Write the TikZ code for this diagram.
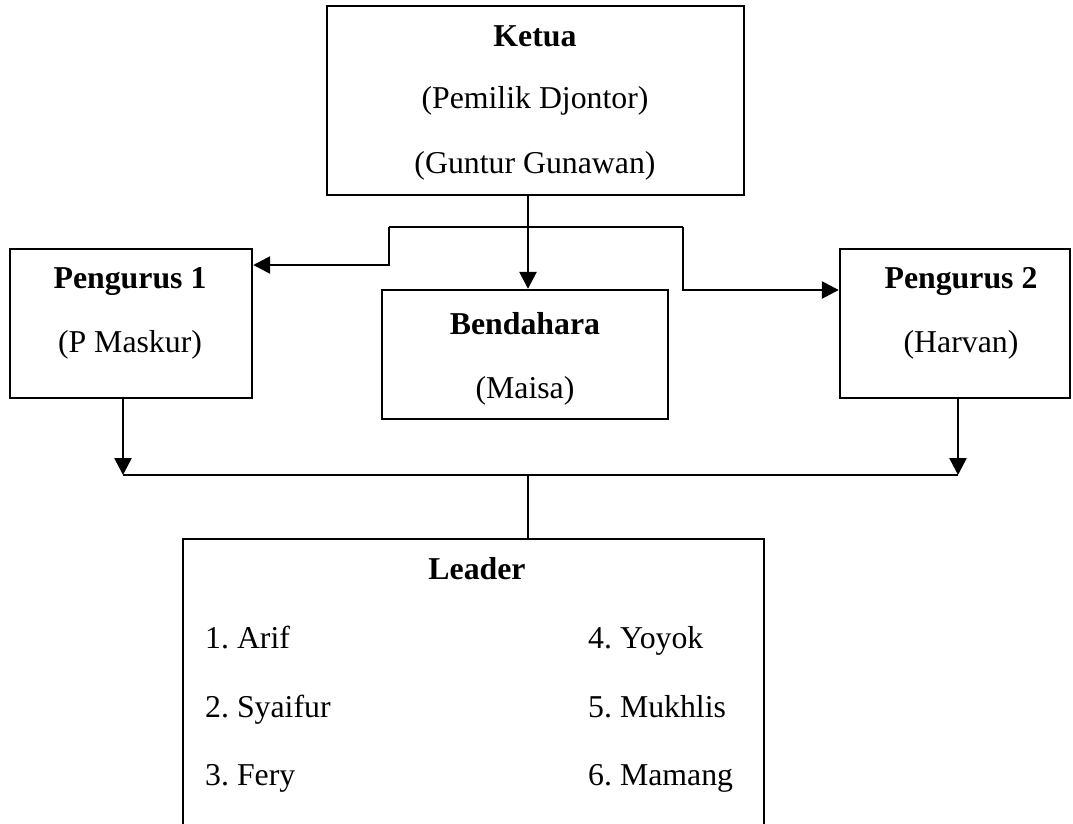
\documentclass[tikz,border=0pt]{standalone}
\usepackage{fontspec}
\setmainfont{Liberation Serif}
\usetikzlibrary{arrows.meta}
\frenchspacing
\begin{document}
\begin{tikzpicture}[x=1pt,y=-1pt,
  box/.style={draw, line width=2.4pt, inner sep=0pt},
  txt/.style={anchor=base, inner sep=0pt, font=\fontsize{31.8}{38}\selectfont},
  btxt/.style={anchor=base, inner sep=0pt, font=\fontsize{31.8}{38}\selectfont\bfseries},
  ltxt/.style={anchor=base west, inner sep=0pt, font=\fontsize{31.8}{38}\selectfont},
  conn/.style={line width=2.6pt},
  thinconn/.style={line width=1.5pt},
  arr/.style={conn, -{Triangle[length=17pt,width=17pt]}}]
\useasboundingbox (0,0) rectangle (1073,823);
\clip (0,0) rectangle (1073,823);

% boxes
\node[box, minimum width=417pt, minimum height=189pt] (ketua) at (535.5,100.5) {};
\node[box, minimum width=242pt, minimum height=149pt] (p1) at (131,323.5) {};
\node[box, minimum width=286pt, minimum height=129pt] (bend) at (525,354.5) {};
\node[box, minimum width=230pt, minimum height=149pt] (p2) at (955,323.5) {};
\node[inner sep=0pt, minimum width=581pt, minimum height=361pt] (leader) at (473.5,719.5) {};
\draw[line width=2.4pt] (leader.south west) -- (leader.north west) -- (leader.north east) -- (leader.south east);

% texts
\node[btxt] (t1) at (535,46) {Ketua};
\node[txt] (t2) at (535,108) {(Pemilik Djontor)};
\node[txt] (t3) at (535,173) {(Guntur Gunawan)};
\node[btxt] (t4) at (130,288) {Pengurus 1};
\node[txt] (t5) at (130,352) {(P Maskur)};
\node[btxt] (t6) at (525,334) {Bendahara};
\node[txt] (t7) at (525,398) {(Maisa)};
\node[btxt] (t8) at (961,288) {Pengurus 2};
\node[txt] (t9) at (961,352) {(Harvan)};
\node[btxt] (t10) at (477,579) {Leader};
\node[ltxt] (l1) at (205,648) {1. Arif};
\node[ltxt] (l2) at (205,717) {2. Syaifur};
\node[ltxt] (l3) at (205,785) {3. Fery};
\node[ltxt] (l4) at (588,648) {4. Yoyok};
\node[ltxt] (l5) at (588,717) {5. Mukhlis};
\node[ltxt] (l6) at (588,785) {6. Mamang};

% junction coordinates
\coordinate (trunk) at (528,227);
\coordinate (lb1) at (389,227);
\coordinate (lb2) at (389,265);
\coordinate (rb1) at (683,227);
\coordinate (rb2) at (683,290);
\coordinate (jl) at (123,475);
\coordinate (jr) at (958,475);
\coordinate (jm) at (528,475);

% connectors
\draw[arr] (ketua.south -| trunk) -- (bend.north -| trunk);
\draw[conn] (trunk) -- (lb1);
\draw[arr] (lb1) -- (lb2) -- (p1.east |- lb2);
\draw[conn] (trunk) -- (rb1);
\draw[arr] (rb1) -- (rb2) -- (p2.west |- rb2);
\draw[arr] (p1.south -| jl) -- (jl);
\draw[arr] (p2.south -| jr) -- (jr);
\draw[conn] (jl) -- (jr);
\draw[thinconn] (jm) -- (leader.north -| jm);
\end{tikzpicture}
\end{document}
